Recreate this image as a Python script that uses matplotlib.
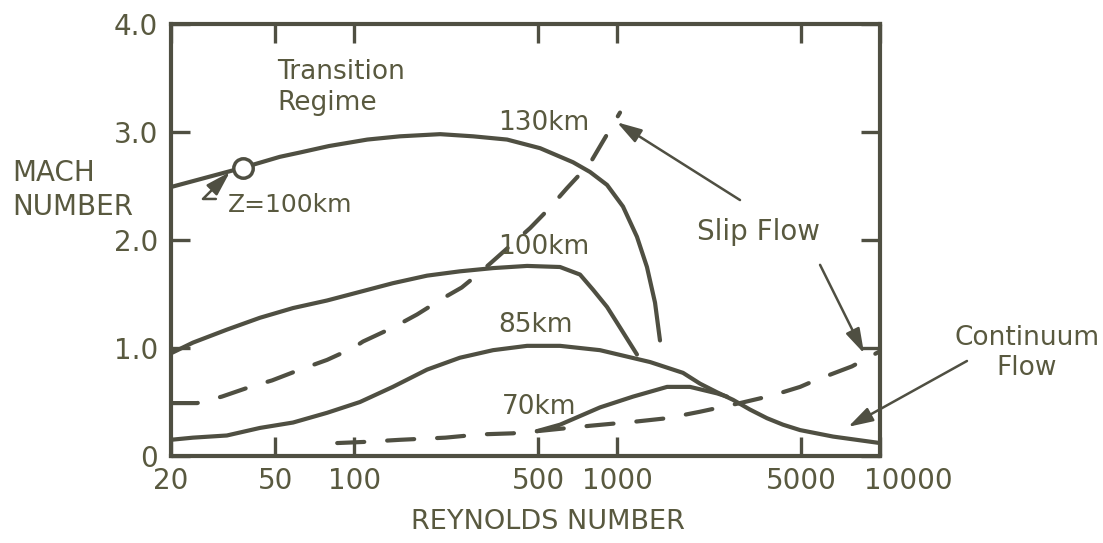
import matplotlib
matplotlib.use('Agg')
import matplotlib.pyplot as plt
from matplotlib.transforms import ScaledTranslation

# Reynolds number / Mach number
re_130 = [20, 37.7, 52, 62, 80, 112, 149, 212, 283, 381, 509, 679, 788, 915, 1052, 1189, 1298, 1393, 1455]
m_130 = [2.49, 2.67, 2.77, 2.81, 2.87, 2.93, 2.96, 2.98, 2.96, 2.93, 2.85, 2.72, 2.63, 2.51, 2.31, 2.03, 1.75, 1.42, 1.07]

re_100 = [20, 24.3, 32.7, 43.7, 58.4, 78.7, 105, 140, 189, 252, 337, 454, 606, 722, 809, 915, 1025, 1189]
m_100 = [0.95, 1.05, 1.17, 1.28, 1.37, 1.44, 1.52, 1.60, 1.67, 1.71, 1.74, 1.76, 1.75, 1.68, 1.54, 1.38, 1.19, 0.94]

re_85 = [20, 24.3, 32.7, 43.7, 58.4, 78.7, 105, 140, 189, 252, 337, 454, 606, 860, 1334, 1780, 2066,
         2398, 2760, 3201, 3716, 4276, 4966, 6629, 10000]
m_85 = [0.15, 0.17, 0.19, 0.26, 0.31, 0.40, 0.50, 0.64, 0.80, 0.91, 0.98, 1.02, 1.02, 0.98, 0.87, 0.77, 0.67,
        0.59, 0.52, 0.43, 0.35, 0.29, 0.24, 0.18, 0.12]

re_70 = [495, 606, 860, 1149, 1548, 1893, 2398, 2618]
m_70 = [0.23, 0.29, 0.45, 0.55, 0.64, 0.64, 0.58, 0.55]

# dashed regime boundaries
re_slip = [20, 25.2, 31.3, 40.1, 48.6, 62.1, 78.7, 98.8, 107.8, 140.3, 173, 217, 256, 301, 466, 545, 644, 788, 876, 1025]
m_slip = [0.49, 0.49, 0.55, 0.64, 0.70, 0.80, 0.89, 1.00, 1.06, 1.19, 1.31, 1.46, 1.56, 1.70, 2.11, 2.28, 2.48, 2.71, 2.90, 3.18]

re_cont = [86, 108, 149, 222, 300, 400, 495, 788, 1189, 1548, 2066, 2933, 3884, 4966, 5662, 7824, 10000]
m_cont = [0.12, 0.13, 0.15, 0.17, 0.20, 0.21, 0.23, 0.28, 0.32, 0.35, 0.41, 0.49, 0.56, 0.64, 0.70, 0.83, 0.97]

circle_re = [37.7]
circle_m = [2.67]

x_ticks = [20, 50, 100, 500, 1000, 5000, 10000]
x_labels = ['20', '50', '100', '500', '1000', '5000', '10000']
y_ticks = [0, 1, 2, 3, 4]
y_labels = ['0', '1.0', '2.0', '3.0', '4.0']

line_c = '#4f4f42'
text_c = '#59593f'

plt.rcParams['font.family'] = ['DejaVu Sans']

fig = plt.figure(figsize=(11.03, 5.43), dpi=100)
ax = fig.add_axes([0.1548, 0.1602, 0.643, 0.7956])
ax.set_xscale('log')
ax.set_xlim(20, 10000)
ax.set_ylim(0, 4)

lw = 3
for xs, ys in [(re_130, m_130), (re_100, m_100), (re_85, m_85), (re_70, m_70)]:
    ax.plot(xs, ys, color=line_c, lw=lw, solid_capstyle='round', solid_joinstyle='round')

ax.plot(re_slip, m_slip, color=line_c, lw=lw, dashes=(6.5, 5.5), dash_capstyle='round')
ax.plot(re_cont, m_cont, color=line_c, lw=lw, dashes=(6.5, 5.5), dash_capstyle='round')

ax.plot(circle_re, circle_m, 'o', ms=14, mfc='white', mec=line_c, mew=2.5, zorder=5)

# axes styling
for s in ax.spines.values():
    s.set_linewidth(3)
    s.set_color(line_c)
ax.minorticks_off()
ax.set_xticks(x_ticks, x_labels)
ax.set_yticks(y_ticks, y_labels)
ax.tick_params(which='major', direction='in', length=14, width=2.4, color=line_c,
               top=True, right=True, labelsize=20, labelcolor=text_c, pad=8)
ax.tick_params(axis='y', pad=9)
xl = ax.get_xticklabels()
xl[-1].set_transform(xl[-1].get_transform() + ScaledTranslation(0.28, 0, fig.dpi_scale_trans))

fig.text(548 / 1103, 1 - 522 / 543, 'REYNOLDS NUMBER', ha='center', va='center',
         fontsize=19.5, color=text_c)
fig.text(12 / 1103, 1 - 190 / 543, 'MACH\nNUMBER', ha='left', va='center',
         fontsize=20, color=text_c, linespacing=1.25)
fig.text(1027 / 1103, 1 - 353 / 543, 'Continuum\nFlow', ha='center', va='center',
         fontsize=19, color=text_c, linespacing=1.2)

kw = dict(fontsize=19, color=text_c, va='center', ha='left')
ax.text(50.8, 3.41, 'Transition\nRegime', linespacing=1.25, **kw)
ax.text(352, 3.08, '130km', **kw)
ax.text(352, 1.935, '100km', **kw)
ax.text(352, 1.21, '85km', **kw)
ax.text(364, 0.45, '70km', **kw)
ax.text(2014, 2.07, 'Slip Flow', fontsize=20, color=text_c, va='center', ha='left')
ax.text(33, 2.32, 'Z=100km', fontsize=18, color=text_c, va='center', ha='left')

arrow = dict(arrowstyle='-|>,head_length=1.0,head_width=0.3', color=line_c, lw=1.8,
             mutation_scale=15, shrinkA=0, shrinkB=0)
ax.annotate('', xy=(33.6, 2.63), xytext=(29.7, 2.38),
            arrowprops=dict(arrow, connectionstyle='angle,angleA=0,angleB=45,rad=0'))
ax.annotate('', xy=(998, 3.09), xytext=(2933, 2.37), arrowprops=arrow)
ax.annotate('', xy=(8700, 0.95), xytext=(5915, 1.77), arrowprops=arrow)
ax.annotate('', xy=(7570, 0.27), xytext=(21430, 0.88), arrowprops=arrow,
            annotation_clip=False)

fig.savefig('out.png', dpi=100)
